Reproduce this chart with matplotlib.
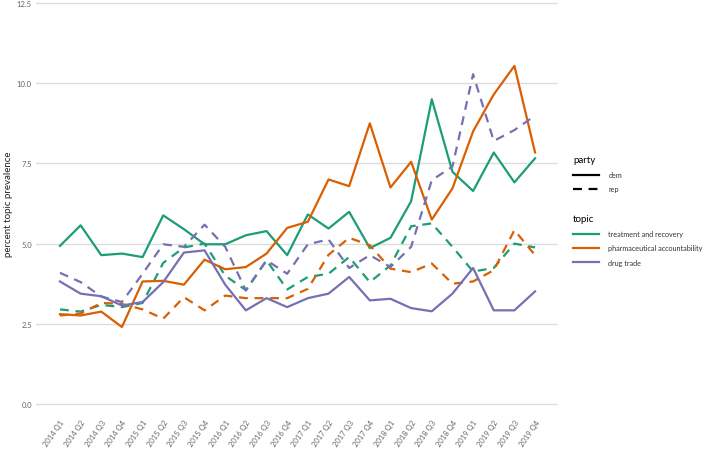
import matplotlib.pyplot as plt
from matplotlib.lines import Line2D

quarters = [f"{y} Q{q}" for y in range(2014, 2020) for q in range(1, 5)]

# treatment and recovery
treat_dem = [4.93, 5.57, 4.64, 4.69, 4.58, 5.88, 5.45, 4.98, 4.98, 5.26, 5.39, 4.64,
             5.91, 5.47, 5.99, 4.86, 5.18, 6.32, 9.50, 7.24, 6.64, 7.84, 6.91, 7.66]
treat_rep = [2.95, 2.88, 3.09, 3.02, 3.15, 4.40, 4.88, 5.00, 4.00, 3.55, 4.48, 3.57,
             3.96, 4.06, 4.58, 3.80, 4.32, 5.54, 5.63, 4.90, 4.13, 4.24, 5.00, 4.88]
# pharmaceutical accountability
pharma_dem = [2.80, 2.76, 2.88, 2.40, 3.82, 3.84, 3.72, 4.50, 4.20, 4.27, 4.69, 5.49,
              5.68, 7.00, 6.79, 8.75, 6.75, 7.55, 5.75, 6.72, 8.50, 9.65, 10.54, 7.84]
pharma_rep = [2.76, 2.82, 3.15, 3.12, 2.95, 2.66, 3.33, 2.92, 3.38, 3.30, 3.30, 3.30,
              3.59, 4.65, 5.18, 4.95, 4.22, 4.11, 4.38, 3.75, 3.82, 4.17, 5.42, 4.64]
# drug trade
drug_dem = [3.82, 3.44, 3.36, 3.07, 3.18, 3.80, 4.72, 4.79, 3.72, 2.92, 3.30, 3.02,
            3.30, 3.44, 3.96, 3.23, 3.28, 2.99, 2.89, 3.44, 4.24, 2.92, 2.92, 3.51]
drug_rep = [4.09, 3.80, 3.35, 3.18, 4.06, 4.98, 4.90, 5.59, 4.90, 3.54, 4.48, 4.06,
            4.98, 5.13, 4.24, 4.64, 4.27, 4.90, 6.98, 7.40, 10.28, 8.20, 8.54, 8.99]

topics = ["treatment and recovery", "pharmaceutical accountability", "drug trade"]
colors = ["#1B9E77", "#D95F02", "#7570B3"]
dem_series = [treat_dem, pharma_dem, drug_dem]
rep_series = [treat_rep, pharma_rep, drug_rep]

plt.rcParams['font.family'] = ['Lato', 'DejaVu Sans']
fig = plt.figure(figsize=(7.08, 4.56), dpi=100)
ax = fig.add_axes([36 / 708, 0.1083, (558 - 36) / 708, 0.8864])

x = list(range(len(quarters)))
for c, d, r in zip(colors, dem_series, rep_series):
    ax.plot(x, d, color=c, linewidth=1.6)
    ax.plot(x, r, color=c, linewidth=1.6, linestyle=(0, (4, 3)))

ax.set_xlim(-1.16, 24.11)
ax.set_ylim(-0.05, 12.55)
ax.set_yticks([0, 2.5, 5, 7.5, 10, 12.5])
ax.set_yticklabels(["0.0", "2.5", "5.0", "7.5", "10.0", "12.5"])
ax.set_xticks(x)
ax.set_xticklabels(quarters, rotation=55, ha='right', rotation_mode='anchor')
ax.grid(axis='y', color='#dcdcdc', linewidth=1.0)
ax.set_axisbelow(True)
for s in ax.spines.values():
    s.set_visible(False)
ax.tick_params(axis='both', length=0, labelsize=5.5, labelcolor='#666666')
ax.tick_params(axis='y', pad=3)
ax.tick_params(axis='x', pad=9)
ax.set_ylabel("percent topic prevalence", fontsize=7, color='#222222', labelpad=3)

leg_kw = dict(loc='upper left', frameon=False, fontsize=5.2, title_fontsize=7,
              handlelength=3.6, handletextpad=1.3, labelspacing=1.0,
              borderpad=0, borderaxespad=0, alignment='left')
party_handles = [Line2D([], [], color='black', linewidth=1.6),
                 Line2D([], [], color='black', linewidth=1.6, linestyle=(0, (4, 3)))]
leg1 = fig.legend(party_handles, ["dem", "rep"], title="party",
                  bbox_to_anchor=(573 / 708, 1 - 156 / 456), **leg_kw)
topic_handles = [Line2D([], [], color=c, linewidth=1.6) for c in colors]
leg2 = fig.legend(topic_handles, topics, title="topic",
                  bbox_to_anchor=(573 / 708, 1 - 215 / 456), **leg_kw)
for leg in (leg1, leg2):
    for t in leg.get_texts():
        t.set_color('#333333')

fig.savefig("out.png", dpi=100)
